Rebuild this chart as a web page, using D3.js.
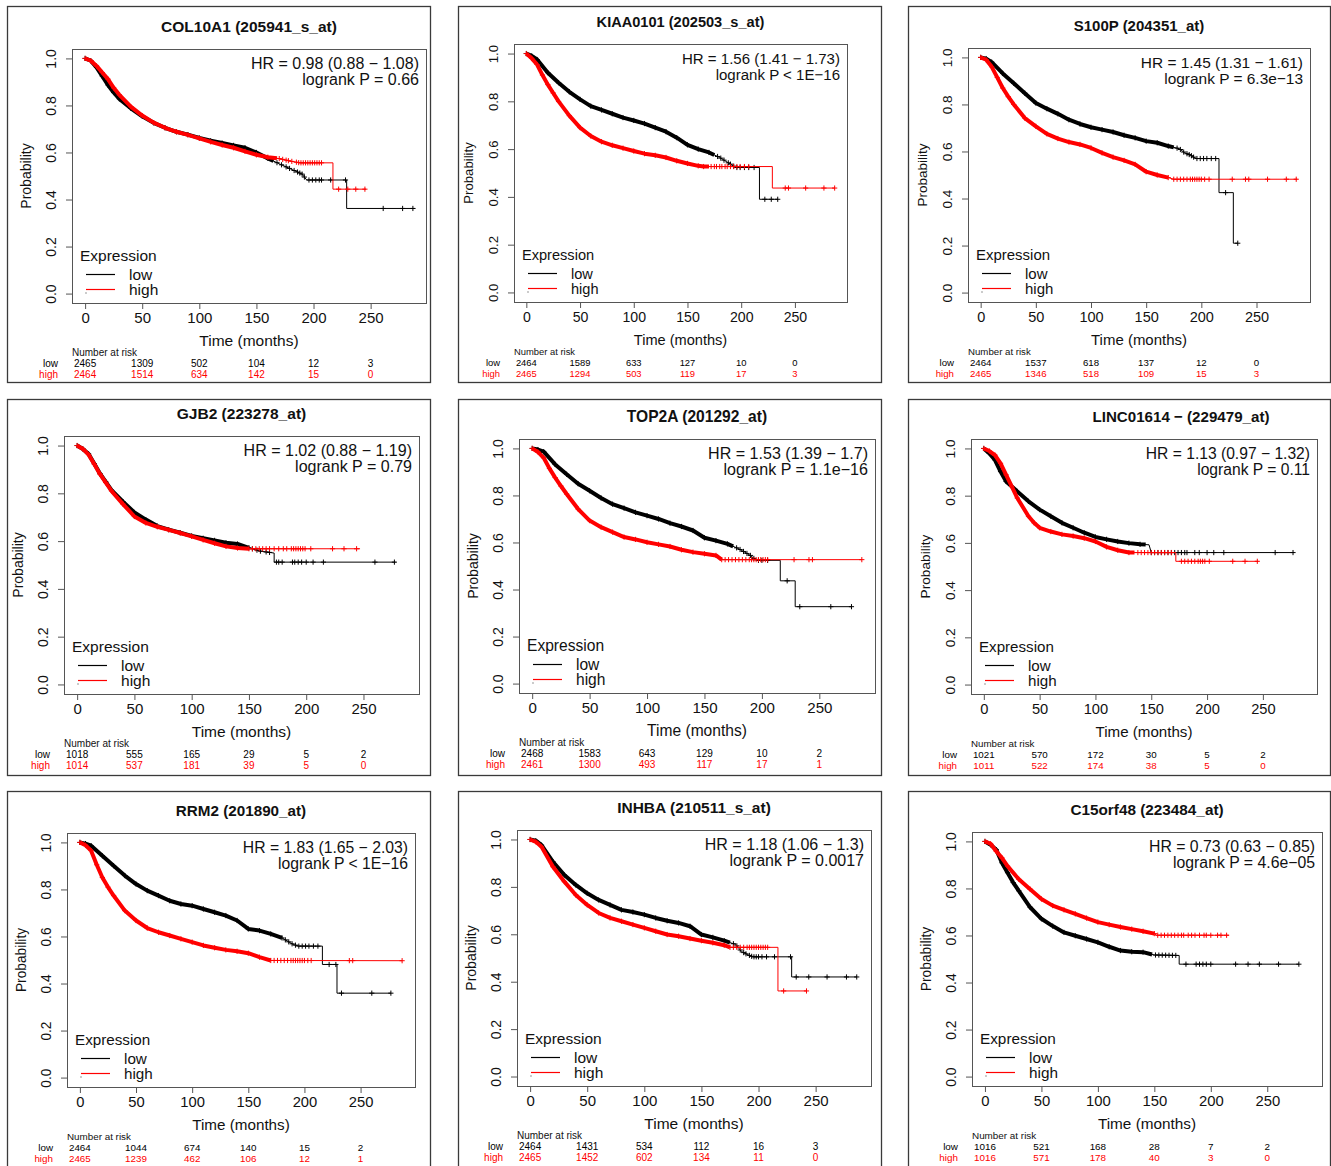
<!DOCTYPE html>
<html><head><meta charset="utf-8">
<script src="https://cdn.jsdelivr.net/npm/d3@7"></script>
<style>
body{margin:0;background:#fff}
svg{display:block}
text{font-family:"Liberation Sans",Arial,sans-serif}
</style>
</head><body>
<svg id="chart" width="1331" height="1166"></svg>
<script>
// ---------------- DATA ----------------
const titles = ["COL10A1 (205941_s_at)","KIAA0101 (202503_s_at)","S100P (204351_at)",
  "GJB2 (223278_at)","TOP2A (201292_at)","LINC01614 \u2212 (229479_at)",
  "RRM2 (201890_at)","INHBA (210511_s_at)","C15orf48 (223484_at)"];
const hrLabels = ["HR = 0.98 (0.88 \u2212 1.08)","HR = 1.56 (1.41 \u2212 1.73)","HR = 1.45 (1.31 \u2212 1.61)",
  "HR = 1.02 (0.88 \u2212 1.19)","HR = 1.53 (1.39 \u2212 1.7)","HR = 1.13 (0.97 \u2212 1.32)",
  "HR = 1.83 (1.65 \u2212 2.03)","HR = 1.18 (1.06 \u2212 1.3)","HR = 0.73 (0.63 \u2212 0.85)"];
const pLabels = ["logrank P = 0.66","logrank P < 1E\u221216","logrank P = 6.3e\u221213",
  "logrank P = 0.79","logrank P = 1.1e\u221216","logrank P = 0.11",
  "logrank P < 1E\u221216","logrank P = 0.0017","logrank P = 4.6e\u221205"];
const xTicks = [0,50,100,150,200,250];
const yTicks = [0,0.2,0.4,0.6,0.8,1.0];
const riskTimes = [0,50,100,150,200,250];
const riskLow = [
  [2465,1309,502,104,12,3],[2464,1589,633,127,10,0],[2464,1537,618,137,12,0],
  [1018,555,165,29,5,2],[2468,1583,643,129,10,2],[1021,570,172,30,5,2],
  [2464,1044,674,140,15,2],[2464,1431,534,112,16,3],[1016,521,168,28,7,2]];
const riskHigh = [
  [2464,1514,634,142,15,0],[2465,1294,503,119,17,3],[2465,1346,518,109,15,3],
  [1014,537,181,39,5,0],[2461,1300,493,117,17,1],[1011,522,174,38,5,0],
  [2465,1239,462,106,12,1],[2465,1452,602,134,11,0],[1016,571,178,40,3,0]];

// survival curves: [time (months), probability]
const lowCurves = [
  [[0,1],[5,0.99],[10,0.962],[15,0.925],[20,0.887],[25,0.855],[30,0.828],[40,0.788],[50,0.754],[60,0.726],[70,0.705],[80,0.688],[90,0.676],[100,0.662],[110,0.65],[120,0.64],[130,0.63],[140,0.62],[150,0.6],[160,0.575],[170,0.552],[180,0.53],[190,0.508],[194,0.483],[229,0.483],[229,0.362],[289,0.362]],
  [[0,1],[5,0.99],[10,0.975],[20,0.92],[30,0.878],[40,0.84],[50,0.808],[60,0.78],[70,0.764],[80,0.748],[90,0.732],[100,0.72],[110,0.707],[120,0.69],[130,0.673],[140,0.648],[150,0.618],[160,0.6],[170,0.586],[180,0.565],[190,0.537],[195,0.523],[217,0.523],[217,0.39],[234,0.39]],
  [[0,1],[5,0.995],[10,0.98],[20,0.932],[30,0.89],[40,0.848],[50,0.806],[60,0.782],[70,0.76],[80,0.735],[90,0.717],[100,0.703],[110,0.693],[120,0.683],[130,0.669],[140,0.658],[150,0.644],[160,0.637],[170,0.623],[180,0.612],[185,0.594],[190,0.585],[195,0.57],[216,0.57],[216,0.425],[229,0.425],[229,0.21],[233,0.21]],
  [[0,1],[5,0.986],[10,0.965],[15,0.924],[20,0.882],[25,0.848],[30,0.813],[40,0.765],[50,0.72],[60,0.69],[70,0.663],[80,0.648],[90,0.635],[100,0.622],[110,0.612],[120,0.603],[130,0.593],[140,0.588],[150,0.572],[160,0.558],[172,0.55],[172,0.512],[278,0.512]],
  [[0,1],[5,0.995],[10,0.986],[20,0.932],[30,0.89],[40,0.85],[50,0.82],[60,0.789],[70,0.763],[80,0.746],[90,0.728],[100,0.714],[110,0.7],[120,0.682],[130,0.668],[140,0.651],[150,0.62],[160,0.608],[170,0.594],[180,0.573],[190,0.545],[195,0.524],[216,0.524],[216,0.437],[229,0.437],[229,0.327],[278,0.327]],
  [[0,1],[5,0.979],[10,0.951],[15,0.902],[20,0.86],[25,0.839],[30,0.818],[40,0.776],[50,0.741],[60,0.713],[70,0.685],[80,0.664],[90,0.643],[100,0.625],[110,0.615],[120,0.606],[130,0.599],[140,0.594],[148,0.592],[150,0.559],[278,0.559]],
  [[0,1],[5,0.995],[10,0.986],[20,0.943],[30,0.901],[40,0.859],[50,0.823],[60,0.795],[70,0.774],[80,0.752],[90,0.738],[100,0.731],[110,0.717],[120,0.703],[130,0.689],[140,0.668],[150,0.632],[160,0.625],[170,0.611],[180,0.594],[190,0.566],[195,0.559],[216,0.559],[216,0.481],[229,0.481],[229,0.359],[277,0.359]],
  [[0,1],[5,0.995],[10,0.976],[20,0.906],[30,0.85],[40,0.808],[50,0.773],[60,0.745],[70,0.724],[80,0.703],[90,0.694],[100,0.683],[110,0.669],[120,0.657],[130,0.648],[140,0.634],[150,0.599],[160,0.587],[170,0.573],[180,0.557],[185,0.528],[190,0.515],[195,0.505],[229,0.505],[229,0.42],[286,0.42]],
  [[0,1],[5,0.986],[10,0.965],[15,0.909],[20,0.867],[25,0.825],[30,0.79],[40,0.72],[50,0.671],[60,0.64],[70,0.613],[80,0.599],[90,0.585],[100,0.571],[110,0.552],[120,0.536],[130,0.531],[140,0.529],[150,0.517],[172,0.515],[172,0.478],[278,0.478]]
];
const highCurves = [
  [[0,1],[5,0.99],[10,0.968],[15,0.94],[20,0.912],[25,0.875],[30,0.845],[40,0.795],[50,0.757],[60,0.727],[70,0.705],[80,0.688],[90,0.675],[100,0.66],[110,0.645],[120,0.632],[130,0.62],[140,0.605],[150,0.59],[160,0.58],[170,0.574],[180,0.563],[188,0.556],[217,0.556],[217,0.444],[246,0.444]],
  [[0,1],[5,0.98],[10,0.954],[15,0.91],[20,0.87],[25,0.835],[30,0.8],[40,0.74],[50,0.69],[60,0.655],[70,0.631],[80,0.616],[90,0.604],[100,0.592],[110,0.581],[120,0.574],[130,0.565],[140,0.551],[150,0.54],[160,0.53],[165,0.527],[229,0.527],[229,0.437],[287,0.437]],
  [[0,1],[5,0.99],[10,0.96],[15,0.915],[20,0.87],[25,0.833],[30,0.8],[40,0.742],[50,0.707],[60,0.675],[70,0.655],[80,0.64],[90,0.63],[100,0.615],[110,0.594],[120,0.576],[130,0.562],[140,0.545],[150,0.514],[160,0.5],[170,0.489],[175,0.482],[287,0.482]],
  [[0,1],[5,0.986],[10,0.962],[15,0.922],[20,0.88],[25,0.845],[30,0.81],[40,0.755],[50,0.703],[60,0.676],[70,0.66],[80,0.647],[90,0.634],[100,0.62],[110,0.605],[120,0.591],[130,0.578],[140,0.571],[150,0.568],[247,0.568]],
  [[0,1],[5,0.985],[10,0.96],[15,0.915],[20,0.876],[25,0.84],[30,0.806],[40,0.742],[50,0.693],[60,0.665],[70,0.644],[80,0.623],[90,0.613],[100,0.601],[110,0.592],[120,0.583],[130,0.569],[140,0.559],[150,0.552],[160,0.545],[165,0.527],[287,0.527]],
  [[0,1],[5,0.989],[10,0.972],[15,0.937],[20,0.888],[25,0.839],[30,0.79],[40,0.713],[45,0.685],[50,0.664],[60,0.648],[70,0.636],[80,0.629],[90,0.62],[100,0.606],[110,0.583],[120,0.569],[130,0.559],[172,0.559],[172,0.522],[246,0.522]],
  [[0,1],[5,0.988],[10,0.965],[15,0.905],[20,0.851],[25,0.81],[30,0.774],[40,0.71],[50,0.668],[60,0.636],[70,0.618],[80,0.604],[90,0.59],[100,0.576],[110,0.562],[120,0.552],[130,0.543],[140,0.537],[150,0.529],[160,0.512],[170,0.498],[287,0.497]],
  [[0,1],[5,0.99],[10,0.969],[20,0.885],[30,0.822],[40,0.766],[50,0.724],[60,0.69],[70,0.669],[80,0.655],[90,0.641],[100,0.627],[110,0.613],[120,0.599],[130,0.592],[140,0.582],[150,0.573],[160,0.564],[170,0.554],[175,0.545],[217,0.545],[217,0.361],[242,0.361]],
  [[0,1],[5,0.99],[10,0.958],[15,0.93],[20,0.895],[30,0.839],[40,0.797],[50,0.755],[60,0.727],[70,0.709],[80,0.692],[90,0.674],[100,0.657],[110,0.646],[120,0.636],[130,0.627],[140,0.618],[150,0.608],[152,0.601],[216,0.601]]
];
// months up to which censor marks are so dense they merge into a band
const lowDenseTo  = [165,175,175,150,175,145,180,175,148];
const highDenseTo = [168,170,170,150,165,135,170,175,150];
// individual censor marks (months) beyond the dense part
const lowCensor = [
  [168,172,176,179,183,186,188,190,192,196,199,202,205,207,215,228,261,278,287],
  [178,181,184,188,190,193,196,199,203,207,212,222,228,234],
  [178,181,184,187,189,191,193,196,199,202,205,209,213,222,233],
  [153,157,160,165,168,174,176,179,188,190,193,196,200,206,215,260,277],
  [178,181,184,187,190,193,197,200,205,222,233,260,278],
  [150,153,156,159,162,165,168,171,174,177,180,182,189,193,200,206,215,261,277],
  [183,186,189,192,195,198,201,204,208,212,222,228,233,260,277],
  [178,181,184,187,189,192,194,196,198,200,203,207,214,228,233,244,260,277,286],
  [151,154,157,160,163,166,169,178,187,190,193,196,200,222,233,243,260,278]
];
const highCensor = [
  [170,173,176,178,181,185,187,189,191,193,195,197,199,201,203,205,207,222,230,237,245],
  [172,175,177,180,182,185,187,190,193,196,199,203,207,241,244,260,277,287],
  [175,178,181,184,187,190,192,194,196,198,200,203,207,228,240,243,260,277,286],
  [153,156,159,162,165,168,172,176,180,183,187,189,191,193,195,197,199,204,223,233,244],
  [168,171,174,177,180,183,186,189,191,193,195,197,199,201,203,205,228,241,244,287],
  [138,141,144,147,150,153,156,159,162,165,168,177,180,183,186,189,192,194,196,198,202,223,234,245],
  [173,176,179,182,185,188,190,192,194,196,198,200,203,206,240,243,287],
  [178,181,184,187,190,192,194,196,198,200,202,204,206,208,222,242],
  [153,156,159,162,165,168,171,174,176,180,183,186,190,194,196,200,206,209,214]
];
const X_MAX = 287;

// ---------------- LAYOUT ----------------
const frames = [[7,6,430,382],[458,6,881,382],[908,6,1330,382],
  [7,399,430,775],[458,399,881,775],[908,399,1330,775],
  [7,791,430,1175],[458,791,881,1175],[908,791,1330,1175]];
const plotBoxes = [[72,49,426,303],[514,44,847,302],[968,48,1310,302],
  [64,436,419,694],[519,439,875,693],[971,439,1317,694],
  [67,833,415,1087],[517,830,871,1086],[972,832,1322,1086]];
const titleShift = [0,0,0,0,0,37,0,0,0];
const RED = "#ff0000", BLACK = "#000000";
const FONT = '"Liberation Sans",Arial,sans-serif';

const svg = d3.select("#chart");
svg.append("rect").attr("width",1331).attr("height",1166).attr("fill","#fff");

function survAt(pts, t){
  for (let i=0;i<pts.length-1;i++){
    const [t0,s0]=pts[i],[t1,s1]=pts[i+1];
    if (t1>t0 && t>=t0 && t<=t1) return s0+(s1-s0)*(t-t0)/(t1-t0);
  }
  return pts[pts.length-1][1];
}

titles.forEach((title,i)=>{
  const [bx0,by0,bx1,by1] = plotBoxes[i];
  const fr = frames[i];
  const k = (bx1-bx0)/354;
  const x = d3.scaleLinear().domain([-0.04*X_MAX, 1.04*X_MAX]).range([bx0,bx1]);
  const y = d3.scaleLinear().domain([-0.04,1.04]).range([by1,by0]);
  const g = svg.append("g");

  g.append("rect").attr("x",fr[0]+0.5).attr("y",fr[1]+0.5).attr("width",fr[2]-fr[0]).attr("height",fr[3]-fr[1])
    .attr("fill","none").attr("stroke","#3a3a3a").attr("stroke-width",1.3);

  // title
  g.append("text").attr("x",(bx0+bx1)/2+titleShift[i]).attr("y",by0-17).attr("text-anchor","middle")
    .attr("font-weight","bold").attr("font-size",15.5*k).attr("fill","#111").text(title);

  // axes
  const gx = g.append("g").attr("transform",`translate(0,${by1})`)
    .call(d3.axisBottom(x).tickValues(xTicks).tickSize(6).tickPadding(3.5).tickFormat(d3.format("d")));
  gx.select(".domain").remove();
  gx.selectAll("line").attr("stroke","#555");
  gx.selectAll("text").attr("font-size",15*k).attr("fill","#111").style("font-family",FONT);

  const gy = g.append("g").attr("transform",`translate(${bx0},0)`)
    .call(d3.axisLeft(y).tickValues(yTicks).tickSize(6).tickFormat(d3.format(".1f")));
  gy.select(".domain").remove();
  gy.selectAll("line").attr("stroke","#555");
  gy.selectAll("text").attr("transform","rotate(-90)").attr("x",0).attr("y",-16).attr("dy",null)
    .attr("text-anchor","middle").attr("font-size",14*k).attr("fill","#111").style("font-family",FONT);

  // box
  g.append("rect").attr("x",bx0+0.5).attr("y",by0+0.5).attr("width",bx1-bx0).attr("height",by1-by0)
    .attr("fill","none").attr("stroke","#555").attr("stroke-width",1);

  // axis labels
  g.append("text").attr("transform",`translate(${bx0-41},${(by0+by1)/2}) rotate(-90)`)
    .attr("text-anchor","middle").attr("font-size",14*k).attr("fill","#111").text("Probability");
  g.append("text").attr("x",(bx0+bx1)/2).attr("y",by1+42.5).attr("text-anchor","middle")
    .attr("font-size",15.5*k).attr("fill","#111").text("Time (months)");

  // HR text
  g.append("text").attr("x",bx1-7).attr("y",by0+19.5).attr("text-anchor","end")
    .attr("font-size",16*k).attr("fill","#111").text(hrLabels[i]);
  g.append("text").attr("x",bx1-7).attr("y",by0+36).attr("text-anchor","end")
    .attr("font-size",16*k).attr("fill","#111").text(pLabels[i]);

  // curves
  const line = d3.line().x(d=>x(d[0])).y(d=>y(d[1]));
  const series = [
    {pts:lowCurves[i], dense:lowDenseTo[i], cens:lowCensor[i], col:BLACK},
    {pts:highCurves[i], dense:highDenseTo[i], cens:highCensor[i], col:RED}
  ];
  series.forEach(s=>{
    g.append("path").attr("d",line(s.pts)).attr("fill","none").attr("stroke",s.col).attr("stroke-width",1);
    const densePts = s.pts.filter(p=>p[0]<s.dense);
    densePts.push([s.dense, survAt(s.pts,s.dense)]);
    g.append("path").attr("d",line(densePts)).attr("fill","none").attr("stroke",s.col)
      .attr("stroke-width",4).attr("stroke-linejoin","round");
    const marks = s.pts.filter(p=>p[0]<=s.dense).map(p=>p[0]).concat(s.cens);
    const mg = g.append("g").attr("stroke",s.col).attr("stroke-width",1);
    marks.forEach(t=>{
      const px = x(t), py = y(survAt(s.pts,t));
      mg.append("line").attr("x1",px-2.6).attr("x2",px+2.6).attr("y1",py).attr("y2",py);
      mg.append("line").attr("x1",px).attr("x2",px).attr("y1",py-2.6).attr("y2",py+2.6);
    });
  });

  // legend
  const lx = bx0, lb = by1;
  g.append("text").attr("x",lx+8).attr("y",lb-42.5).attr("font-size",15.5*k).attr("fill","#111").text("Expression");
  [["low",BLACK,29],["high",RED,14]].forEach(([lab,col,dy])=>{
    const ly = Math.round(lb-dy)+0.5;
    g.append("line").attr("x1",lx+14).attr("x2",lx+43).attr("y1",ly).attr("y2",ly)
      .attr("stroke",col).attr("stroke-width",1.2);
    g.append("text").attr("x",lx+57).attr("y",lb-dy+5.5).attr("font-size",15.5*k).attr("fill","#111").text(lab);
  });
  g.append("rect").attr("x",lx+13.5).attr("y",lb-10.5).attr("width",1).attr("height",1).attr("fill","#333");

  // number at risk
  g.append("text").attr("x",bx0).attr("y",by1+52.5).attr("font-size",10*k).attr("fill","#111").text("Number at risk");
  [["low",riskLow[i],BLACK,63.5],["high",riskHigh[i],RED,74.5]].forEach(([lab,vals,col,dy])=>{
    g.append("text").attr("x",bx0-14).attr("y",by1+dy).attr("text-anchor","end")
      .attr("font-size",10*k).attr("fill",col).text(lab);
    vals.forEach((v,j)=>{
      g.append("text").attr("x",x(riskTimes[j])).attr("y",by1+dy).attr("text-anchor","middle")
        .attr("font-size",10*k).attr("fill",col).text(v);
    });
  });
});
</script>
</body></html>
